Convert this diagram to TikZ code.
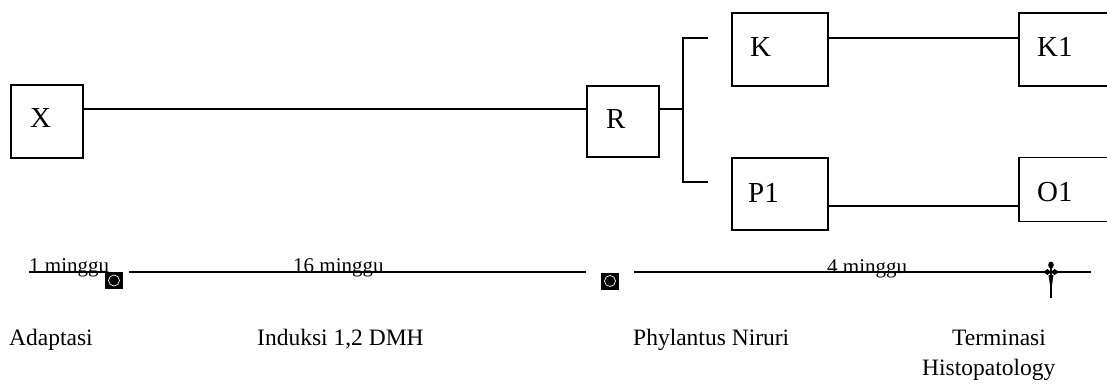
\documentclass[tikz,border=0pt]{standalone}
\usepackage{fontspec}
\setmainfont{Liberation Serif}
\begin{document}
\begin{tikzpicture}[x=1pt,y=-1pt,
  box/.style={draw, line width=1.1pt, inner sep=0pt, minimum width=#1},
  boxlbl/.style={anchor=base west, inner sep=0pt, font=\fontsize{29}{33}\selectfont},
  tllbl/.style={anchor=base west, inner sep=0pt, font=\fontsize{21}{25}\selectfont},
  btlbl/.style={anchor=base west, inner sep=0pt, font=\fontsize{23.5}{27}\selectfont},
  conn/.style={line width=1.2pt},
  marker/.style={fill=black, inner sep=0pt, minimum width=18pt, minimum height=17pt,
    path picture={\draw[white, line width=0.7pt] (path picture bounding box.center) circle (5.5pt);}}]
\clip (0,0) rectangle (1107,389);
\fill[white] (0,0) rectangle (1107,389);

% boxes
\node[box=72pt, minimum height=73pt] (X)  at (47,121.5) {};
\node[box=72pt, minimum height=71pt] (R)  at (623,121.5) {};
\node[box=96pt, minimum height=73pt] (K)  at (780,49.5) {};
\node[box=96pt, minimum height=72pt] (P1) at (780,194) {};
\node[box=106pt, minimum height=73pt] (K1) at (1072,49.5) {};
\node[box=106pt, minimum height=64pt] (O1) at (1072,189.5) {};

% box labels
\node[boxlbl] (tX)  at (30,127)   {X};
\node[boxlbl] (tR)  at (606,128)  {R};
\node[boxlbl] (tK)  at (750,56)   {K};
\node[boxlbl] (tP1) at (748,202)  {P1};
\node[boxlbl] (tK1) at (1037,56)  {K1};
\node[boxlbl] (tO1) at (1037,201) {O1};

% connectors
\draw[conn] ([yshift=12.5pt]X.east) -- ([yshift=12.5pt]R.west);
\coordinate (br) at (683,109);
\coordinate (brT) at (708,38);
\coordinate (brB) at (708,182);
\draw[conn] ([yshift=12.5pt]R.east) -- (br);
\draw[conn] (brT) -| (br) |- (brB);
\draw[conn] ([yshift=11.5pt]K.east) -- ([yshift=11.5pt]K1.west);
\draw[conn] ([yshift=-12pt]P1.east) -- ([yshift=-16.5pt]O1.west);

% timeline
\node[marker] (m1) at (114,280.5) {};
\node[marker] (m2) at (610,281) {};
\coordinate (t0) at (29,272);
\coordinate (t1) at (107,272);
\coordinate (t2) at (129,272);
\coordinate (t3) at (586,272);
\coordinate (t4) at (634,272);
\coordinate (t5) at (1091,272);
\draw[conn] (t0) -- (t1);
\draw[conn] (t2) -- (t3);
\draw[conn] (t4) -- (t5);

\node[tllbl] (w1)  at (29,272)  {1 minggu};
\node[tllbl] (w16) at (293,272) {16 minggu};
\node[tllbl] (w4)  at (827,273) {4 minggu};

% termination mark
\coordinate (dg) at (1051,272);
\draw[line width=1.1pt] (1051,264) -- (1051,298);
\fill (1051,265) ellipse (2.8pt and 3.5pt);
\fill (1043,272) -- (1047.5,269) -- (1051,272) -- (1047.5,275) -- cycle;
\fill (1059,272) -- (1054.5,269) -- (1051,272) -- (1054.5,275) -- cycle;
\fill (1048.5,275) -- (1053.5,275) -- (1051,292) -- cycle;

% bottom labels
\node[btlbl] (a1) at (9,345)   {Adaptasi};
\node[btlbl] (a2) at (257,345) {Induksi 1,2 DMH};
\node[btlbl] (a3) at (633,345) {Phylantus Niruri};
\node[btlbl] (a4) at (952,345) {Terminasi};
\node[btlbl] (a5) at (922,375) {Histopatology};
\end{tikzpicture}
\end{document}
